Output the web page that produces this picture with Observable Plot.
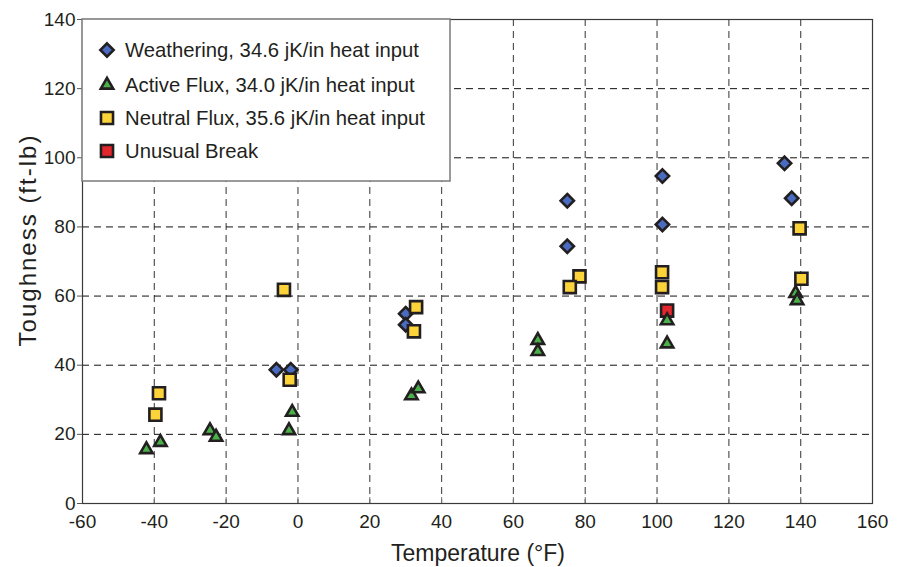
<!DOCTYPE html>
<html>
<head>
<meta charset="utf-8">
<script src="https://cdn.jsdelivr.net/npm/d3@7"></script>
<script src="https://cdn.jsdelivr.net/npm/@observablehq/plot@0.6"></script>
<style>
  body { margin: 0; background: #fff; }
  #chart { position: relative; width: 901px; height: 567px; }
</style>
</head>
<body>
<div id="chart"></div>
<script>
// Series data: temperature (°F) and toughness (ft-lb)
const weatheringX = [-6, -2, 30, 30, 75, 75, 101.5, 101.5, 135.5, 137.5];
const weatheringY = [38.7, 38.7, 54.9, 51.7, 87.6, 74.4, 94.7, 80.7, 98.4, 88.3];

const activeX = [-42.2, -38.3, -24.5, -22.8, -2.5, -1.6, 31.6, 33.5, 66.8, 66.8, 102.8, 102.8, 138.6, 139];
const activeY = [15.6, 17.7, 21.1, 19.2, 21.1, 26.4, 31.2, 33.2, 47.2, 44.0, 52.9, 46.2, 60.8, 58.7];

const neutralX = [-38.7, -39.7, -2.3, -3.9, 32.9, 32.3, 78.4, 75.7, 101.4, 101.4, 139.7, 140.2];
const neutralY = [31.9, 25.7, 35.8, 61.8, 56.8, 49.8, 65.7, 62.6, 66.9, 62.6, 79.6, 65.0];

const breakX = [102.8];
const breakY = [55.8];

const seriesNames = [
  "Weathering, 34.6 jK/in heat input",
  "Active Flux, 34.0 jK/in heat input",
  "Neutral Flux, 35.6 jK/in heat input",
  "Unusual Break"
];

const xTicks = [-60, -40, -20, 0, 20, 40, 60, 80, 100, 120, 140, 160];
const yTicks = [0, 20, 40, 60, 80, 100, 120, 140];
const xTitle = "Temperature (°F)";
const yTitle = "Toughness (ft-lb)";

const toRows = (xs, ys) => xs.map((x, i) => ({x, y: ys[i]}));
const weathering = toRows(weatheringX, weatheringY);
const active = toRows(activeX, activeY);
const neutral = toRows(neutralX, neutralY);
const unusual = toRows(breakX, breakY);

const C = {blue: "#4a6cc0", green: "#4cb04a", yellow: "#fdd33a", red: "#e2262b", ink: "#231f20"};
const font = "Liberation Sans, Arial, Helvetica, sans-serif";
const fmt = d => String(d);
const SW = 2.6;

const plot = Plot.plot({
  width: 901,
  height: 567,
  marginLeft: 82,
  marginRight: 29,
  marginTop: 19,
  marginBottom: 64,
  style: {fontFamily: font, background: "#fff", color: "#231f20"},
  x: {domain: [-60, 160]},
  y: {domain: [0, 140]},
  marks: [
    Plot.gridX(xTicks.slice(1, -1), {stroke: "#555", strokeOpacity: 1, strokeWidth: 1.2, strokeDasharray: "7,5"}),
    Plot.gridY(yTicks.slice(1, -1), {stroke: "#111", strokeOpacity: 1, strokeDasharray: "7,5"}),
    Plot.frame({stroke: "#3a3a3a", strokeWidth: 1.2}),
    Plot.axisY(yTicks, {tickSize: 5, tickPadding: 2, fontSize: 19, stroke: "#555", tickFormat: fmt, label: null}),
    Plot.axisX(xTicks, {tickSize: 0, tickPadding: 11, fontSize: 19, tickFormat: fmt, label: null}),
    Plot.axisX(xTicks.slice(1, -1), {tickSize: -6, stroke: "#777", tickFormat: () => "", label: null}),
    Plot.dot(weathering, {x: "x", y: "y", symbol: "diamond2", r: 6, fill: C.blue, stroke: C.ink, strokeWidth: SW}),
    Plot.dot(neutral, {x: "x", y: "y", symbol: "square", r: 6.8, fill: C.yellow, stroke: C.ink, strokeWidth: SW}),
    Plot.dot(unusual, {x: "x", y: "y", symbol: "square", r: 6.8, fill: C.red, stroke: C.ink, strokeWidth: SW}),
    Plot.dot(active, {x: "x", y: "y", symbol: "triangle", r: 4.6, fill: C.green, stroke: C.ink, strokeWidth: SW})
  ]
});

document.getElementById("chart").appendChild(plot);

const svg = d3.select(plot);

// Axis titles
svg.append("text")
  .attr("x", 478).attr("y", 553).attr("dy", "0.36em")
  .attr("text-anchor", "middle").attr("font-family", font).attr("font-size", 23)
  .attr("fill", "#231f20").text(xTitle);
svg.append("text")
  .attr("transform", "translate(27,240) rotate(-90)").attr("dy", "0.36em")
  .attr("text-anchor", "middle").attr("font-family", font).attr("font-size", 24)
  .attr("letter-spacing", 2).attr("fill", "#231f20").text(yTitle);

// Legend box overlaid in the top-left corner of the plot frame
const lg = svg.append("g").attr("class", "legend");
lg.append("rect")
  .attr("x", 82).attr("y", 19).attr("width", 368).attr("height", 162)
  .attr("fill", "#fff").attr("stroke", "#7a7a7a").attr("stroke-width", 1.5);
const legendSymbols = [
  {sym: d3.symbolDiamond2, size: Math.PI * 36, fill: C.blue},
  {sym: d3.symbolTriangle, size: Math.PI * 4.6 * 4.6, fill: C.green},
  {sym: d3.symbolSquare, size: Math.PI * 6.8 * 6.8, fill: C.yellow},
  {sym: d3.symbolSquare, size: Math.PI * 6.8 * 6.8, fill: C.red}
];
const rowsY = [50, 85, 118, 151];
seriesNames.forEach((name, i) => {
  const s = legendSymbols[i];
  lg.append("path")
    .attr("transform", `translate(107,${rowsY[i]})`)
    .attr("d", d3.symbol(s.sym, s.size)())
    .attr("fill", s.fill).attr("stroke", C.ink).attr("stroke-width", SW);
  lg.append("text")
    .attr("x", 125).attr("y", rowsY[i]).attr("dy", "0.36em")
    .attr("text-anchor", "start")
    .attr("font-size", 20.3).attr("font-family", font).attr("fill", "#231f20")
    .text(name);
});
</script>
</body>
</html>
